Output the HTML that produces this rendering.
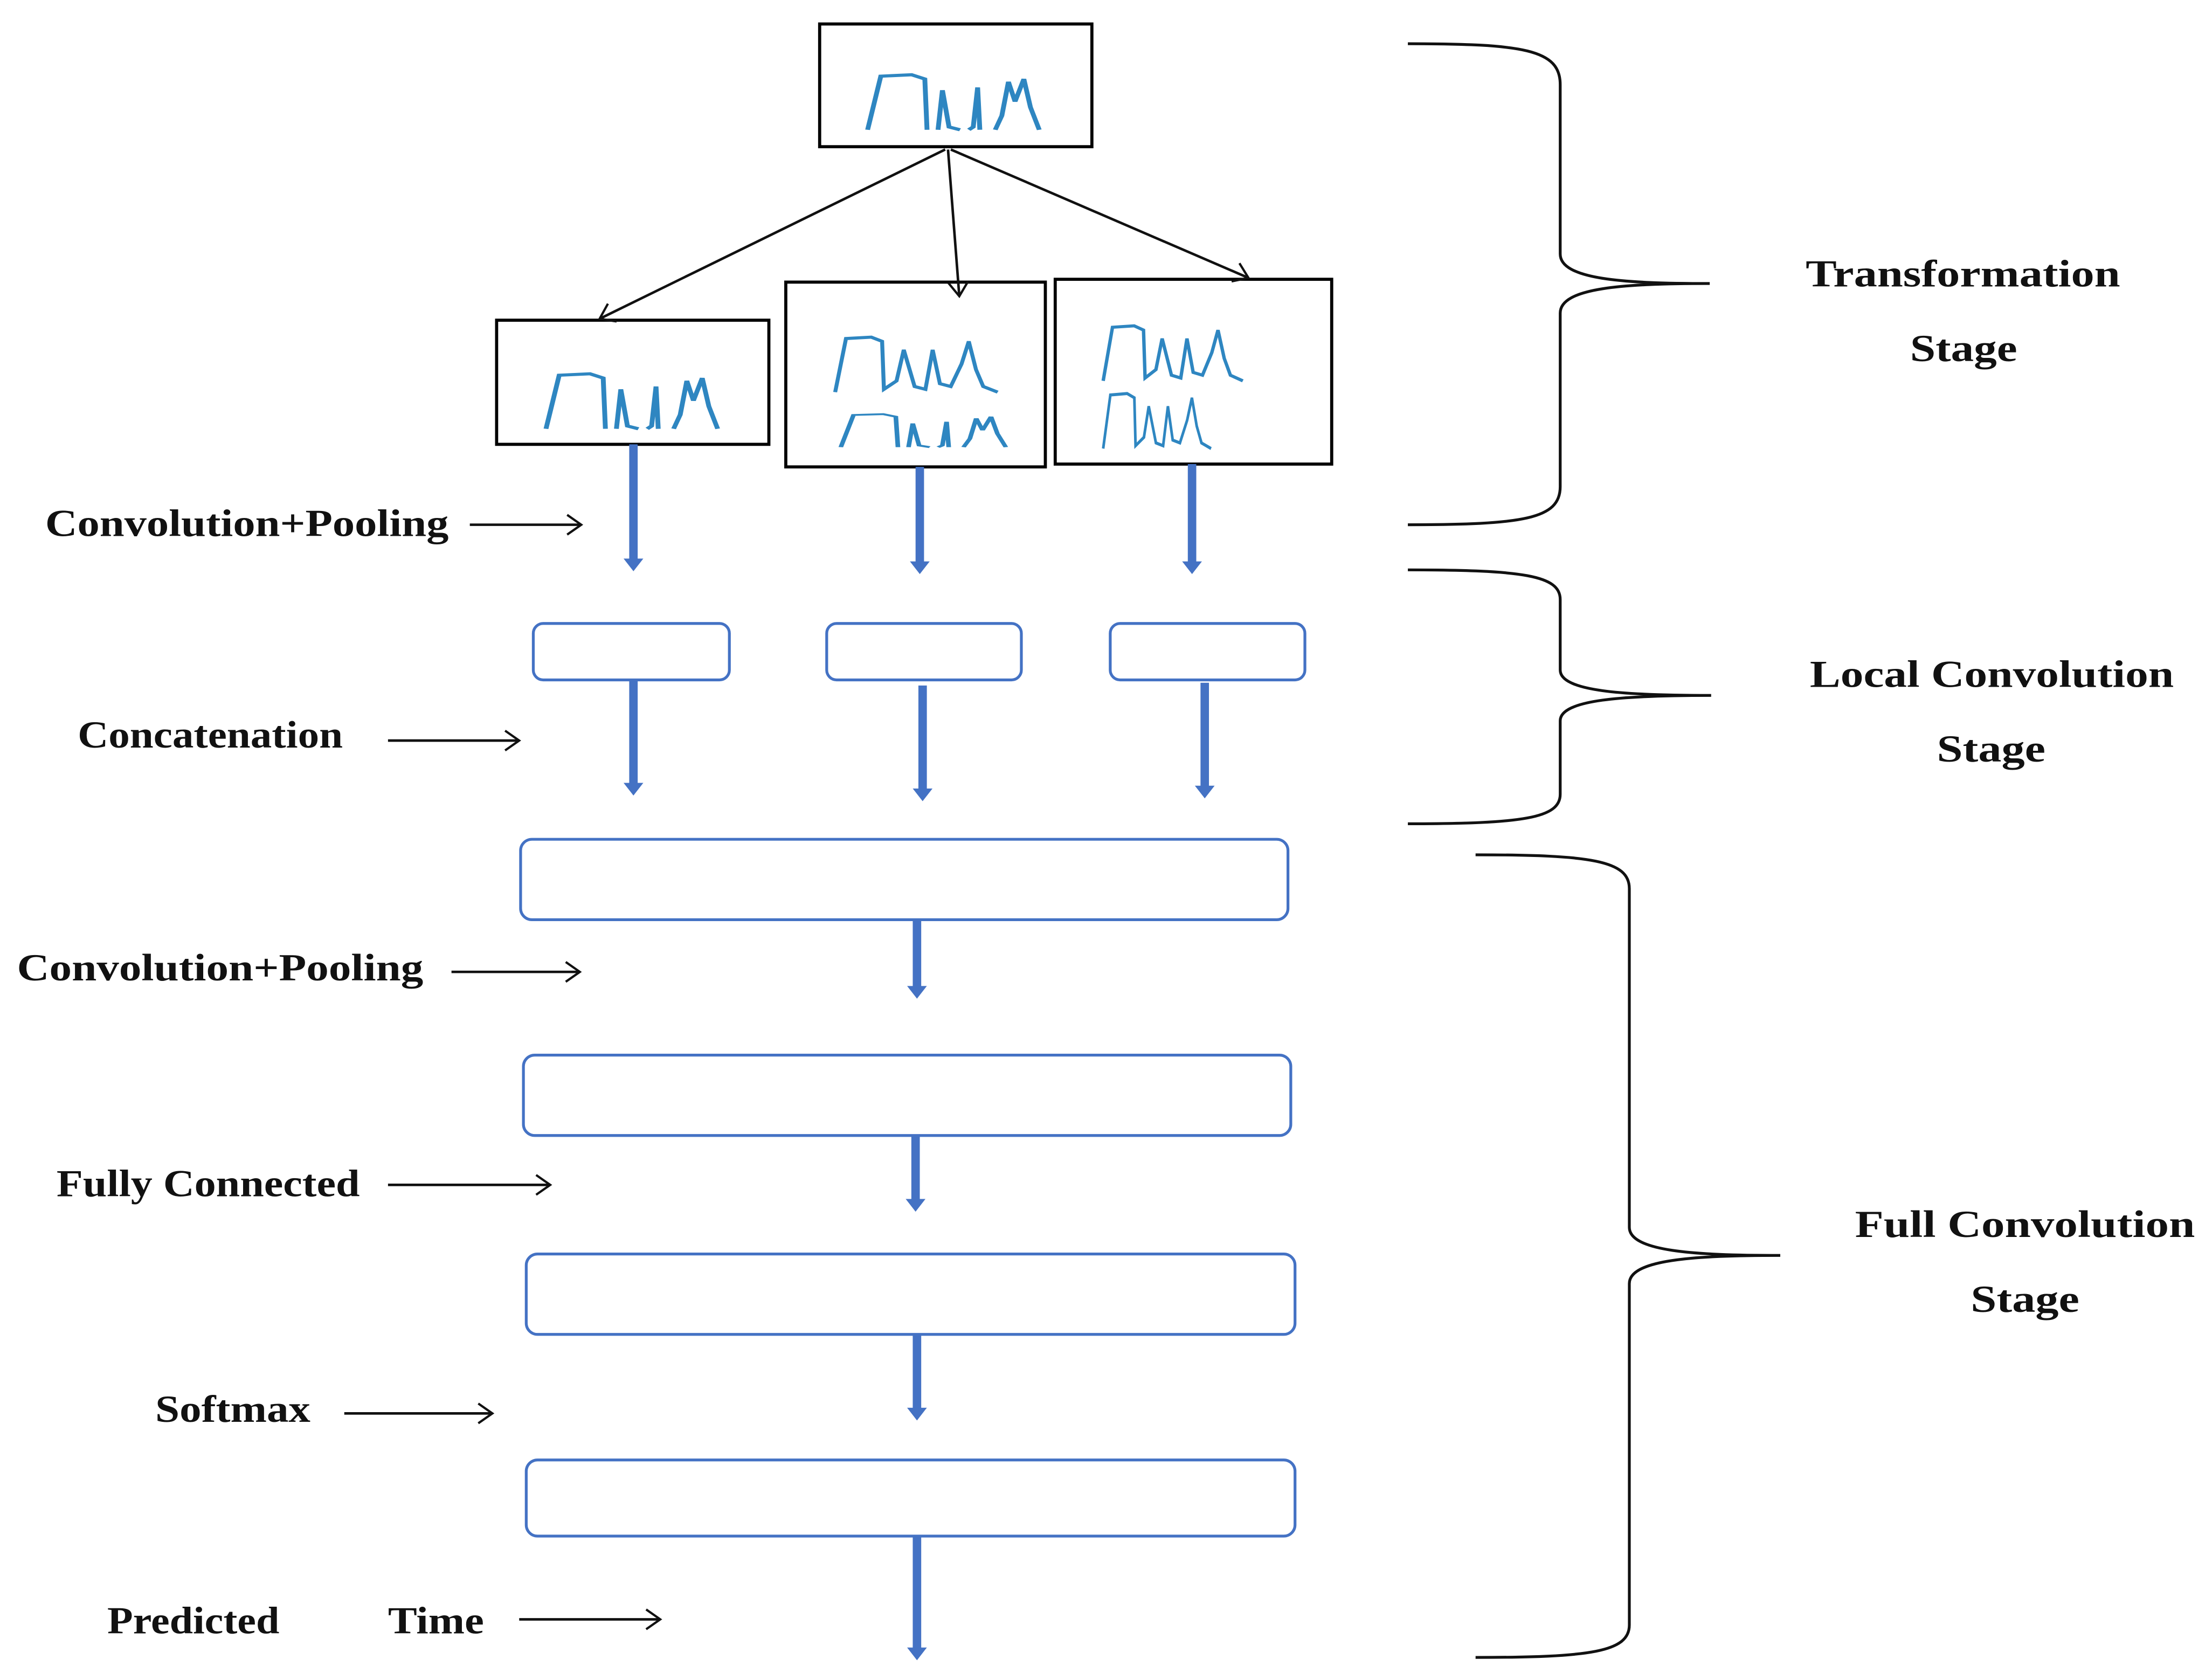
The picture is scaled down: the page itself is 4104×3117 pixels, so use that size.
<!DOCTYPE html>
<html><head><meta charset="utf-8"><style>html,body{margin:0;padding:0;background:#fff}svg{display:block}</style></head>
<body>
<svg width="4104" height="3117" viewBox="0 0 1568 1191" xmlns="http://www.w3.org/2000/svg">
<defs>
<g id="w" fill="none" stroke="#2e86c1" stroke-width="2.2">
<path d="M0,40 L6,2 L20,1 L26,4 L27,40 M32,40 L34,12 L37,38 L42,40 M46,40 L48,38 L50,10 L51,40 M58,40 L61,30 L64,6 L67,20 L71,4 L74,24 L78,40"/>
</g>
<g id="w2" fill="none" stroke="#2e86c1" stroke-width="2.2">
<path d="M0,40 L6,2 L20,1 L26,4 L27,38 L34,32 L38,10 L44,36 L50,38 L54,10 L58,34 L64,36 L70,20 L74,4 L78,24 L82,36 L90,40"/>
</g>
<marker id="oa" markerWidth="16" markerHeight="16" refX="13" refY="8" orient="auto" markerUnits="userSpaceOnUse"><path d="M3,1 L13,8 L3,15" fill="none" stroke="#111" stroke-width="1.6"/></marker>
</defs>
<g fill="#fff" stroke="#000" stroke-width="2.2">
<rect x="581" y="17" width="193" height="87"/>
<rect x="352" y="227" width="193" height="88"/>
<rect x="557" y="200" width="184" height="131"/>
<rect x="748" y="198" width="196" height="131"/>
</g>
<use href="#w" transform="translate(615,52) scale(1.56,1)"/>
<use href="#w" transform="translate(387,264) scale(1.56,1)"/>
<use href="#w2" transform="translate(592,238) scale(1.28,1)"/>
<use href="#w" transform="translate(596,293) scale(1.5,0.6)"/>
<use href="#w2" transform="translate(782,230) scale(1.1,1)"/>
<use href="#w2" transform="translate(782,278) scale(0.85,1)"/>
<g stroke="#111" stroke-width="1.8" fill="none">
<line x1="670" y1="106" x2="425" y2="226" marker-end="url(#oa)"/>
<line x1="672" y1="106" x2="680" y2="210" marker-end="url(#oa)"/>
<line x1="674" y1="106" x2="885" y2="197" marker-end="url(#oa)"/>
<line x1="333" y1="372" x2="412" y2="372" marker-end="url(#oa)"/>
<line x1="275" y1="525" x2="368" y2="525" marker-end="url(#oa)"/>
<line x1="320" y1="689" x2="411" y2="689" marker-end="url(#oa)"/>
<line x1="275" y1="840" x2="390" y2="840" marker-end="url(#oa)"/>
<line x1="244" y1="1002" x2="349" y2="1002" marker-end="url(#oa)"/>
<line x1="368" y1="1148" x2="468" y2="1148" marker-end="url(#oa)"/>
</g>
<g fill="#fff" stroke="#4472c4" stroke-width="2">
<rect x="378" y="442" width="139" height="40" rx="7"/>
<rect x="586" y="442" width="138" height="40" rx="7"/>
<rect x="787" y="442" width="138" height="40" rx="7"/>
<rect x="369" y="595" width="544" height="57" rx="8"/>
<rect x="371" y="748" width="544" height="57" rx="8"/>
<rect x="373" y="889" width="545" height="57" rx="8"/>
<rect x="373" y="1035" width="545" height="54" rx="8"/>
</g>
<g stroke="#4472c4" stroke-width="6" fill="#4472c4">
<line x1="449" y1="315" x2="449" y2="398"/><path d="M442,396 L456,396 L449,405Z" stroke="none"/>
<line x1="652" y1="331" x2="652" y2="400"/><path d="M645,398 L659,398 L652,407Z" stroke="none"/>
<line x1="845" y1="329" x2="845" y2="400"/><path d="M838,398 L852,398 L845,407Z" stroke="none"/>
<line x1="449" y1="482" x2="449" y2="557"/><path d="M442,555 L456,555 L449,564Z" stroke="none"/>
<line x1="654" y1="486" x2="654" y2="561"/><path d="M647,559 L661,559 L654,568Z" stroke="none"/>
<line x1="854" y1="484" x2="854" y2="559"/><path d="M847,557 L861,557 L854,566Z" stroke="none"/>
<line x1="650" y1="652" x2="650" y2="701"/><path d="M643,699 L657,699 L650,708Z" stroke="none"/>
<line x1="649" y1="805" x2="649" y2="852"/><path d="M642,850 L656,850 L649,859Z" stroke="none"/>
<line x1="650" y1="946" x2="650" y2="1000"/><path d="M643,998 L657,998 L650,1007Z" stroke="none"/>
<line x1="650" y1="1089" x2="650" y2="1170"/><path d="M643,1168 L657,1168 L650,1177Z" stroke="none"/>
</g>
<g fill="none" stroke="#111" stroke-width="2">
<path d="M998,31 C1080,31 1106,35 1106,60 L1106,180 C1106,198 1150,201 1212,201 C1150,201 1106,204 1106,222 L1106,345 C1106,368 1080,372 998,372"/>
<path d="M998,404 C1080,404 1106,408 1106,425 L1106,475 C1106,490 1150,493 1213,493 C1150,493 1106,496 1106,511 L1106,563 C1106,580 1080,584 998,584"/>
<path d="M1046,606 C1128,606 1155,610 1155,630 L1155,870 C1155,887 1200,890 1262,890 C1200,890 1155,893 1155,910 L1155,1152 C1155,1171 1128,1175 1046,1175"/>
</g>
<g font-family="Liberation Serif, serif" font-weight="bold" font-size="27" fill="#111">
<text x="32" y="380" textLength="286" lengthAdjust="spacingAndGlyphs">Convolution+Pooling</text>
<text x="55" y="530" textLength="188" lengthAdjust="spacingAndGlyphs">Concatenation</text>
<text x="12" y="695" textLength="288" lengthAdjust="spacingAndGlyphs">Convolution+Pooling</text>
<text x="40" y="848" textLength="215" lengthAdjust="spacingAndGlyphs">Fully Connected</text>
<text x="110" y="1008" textLength="110" lengthAdjust="spacingAndGlyphs">Softmax</text>
<text x="76" y="1158" textLength="122" lengthAdjust="spacingAndGlyphs">Predicted</text>
<text x="275" y="1158" textLength="68" lengthAdjust="spacingAndGlyphs">Time</text>
<text x="1280" y="203" textLength="223" lengthAdjust="spacingAndGlyphs">Transformation</text>
<text x="1354" y="256" textLength="76" lengthAdjust="spacingAndGlyphs">Stage</text>
<text x="1283" y="487" textLength="258" lengthAdjust="spacingAndGlyphs">Local Convolution</text>
<text x="1373" y="540" textLength="77" lengthAdjust="spacingAndGlyphs">Stage</text>
<text x="1315" y="877" textLength="241" lengthAdjust="spacingAndGlyphs">Full Convolution</text>
<text x="1397" y="930" textLength="77" lengthAdjust="spacingAndGlyphs">Stage</text>
</g>
</svg>
</body></html>
